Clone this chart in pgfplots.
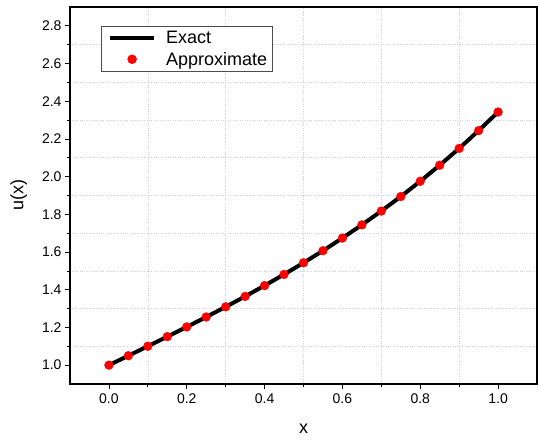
\documentclass[border=0pt]{standalone}
\usepackage{pgfplots}
\pgfplotsset{compat=1.18}
\usepackage{fontspec}
\setmainfont{Liberation Sans}
\usetikzlibrary{calc}

\begin{document}
\begin{tikzpicture}
\begin{axis}[
    scale only axis,
    width=467bp, height=377bp,
    xmin=-0.1, xmax=1.1,
    ymin=0.9, ymax=2.9,
    xtick={0,0.2,...,1.0},
    ytick={1.0,1.2,...,2.8},
    minor x tick num=1,
    minor y tick num=1,
    xtick pos=left, ytick pos=left,
    tick align=outside,
    major tick length=5bp,
    minor tick length=3bp,
    tick style={black, line width=0.8bp},
    axis line style={line width=1.2bp},
    grid=minor,
    minor grid style={gray!35, dotted, line width=0.6bp},
    /pgf/number format/.cd, fixed, fixed zerofill, precision=1, assume math mode=true,
    /pgfplots/.cd,
    tick label style={font=\fontsize{14bp}{16bp}\selectfont},
    xticklabel style={yshift=-1bp},
    xlabel={x}, ylabel={u(x)},
    label style={font=\fontsize{18bp}{20bp}\selectfont},
    xlabel style={yshift=-14bp},
    ylabel style={yshift=8bp},
    legend cell align=left,
    legend style={at={(0.066,0.95)}, anchor=north west,
        font=\fontsize{18bp}{20bp}\selectfont,
        draw=black!70, line width=0.6bp, inner xsep=3bp, inner ysep=3bp,
        row sep=3bp},
]
\addplot[black, line width=4bp, legend image code/.code={
    \path[draw=none, fill=none] (0bp,0bp) -- (60bp,0bp);
    \draw[black, line width=4bp] (6bp,0bp) -- (50bp,0bp);}]
coordinates {
(0.00,1.0000) (0.05,1.0500) (0.10,1.1003) (0.15,1.1512) (0.20,1.2027)
(0.25,1.2554) (0.30,1.3093) (0.35,1.3647) (0.40,1.4220) (0.45,1.4813)
(0.50,1.5429) (0.55,1.6071) (0.60,1.6741) (0.65,1.7442) (0.70,1.8176)
(0.75,1.8947) (0.80,1.9756) (0.85,2.0606) (0.90,2.1500) (0.95,2.2441)
(1.00,2.3430)
};
\addlegendentry{Exact}
\addplot[only marks, mark=*, mark size=4.4bp, draw=red, fill=red,
    legend image code/.code={
    \path[draw=none, fill=none] (0bp,0bp) -- (60bp,0bp);
    \fill[red] (28bp,0bp) circle (4.4bp);}]
coordinates {
(0.00,1.0000) (0.05,1.0500) (0.10,1.1003) (0.15,1.1512) (0.20,1.2027)
(0.25,1.2554) (0.30,1.3093) (0.35,1.3647) (0.40,1.4220) (0.45,1.4813)
(0.50,1.5429) (0.55,1.6071) (0.60,1.6741) (0.65,1.7442) (0.70,1.8176)
(0.75,1.8947) (0.80,1.9756) (0.85,2.0606) (0.90,2.1500) (0.95,2.2441)
(1.00,2.3430)
};
\addlegendentry{Approximate}
\end{axis}
\pgfresetboundingbox
\path[use as bounding box] ($(current axis.south west)+(-70bp,-56bp)$) rectangle ($(current axis.north east)+(2bp,7bp)$);
\end{tikzpicture}
\end{document}
